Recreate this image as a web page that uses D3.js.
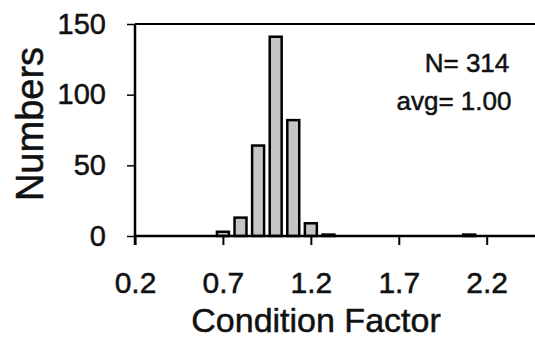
<!DOCTYPE html>
<html>
<head>
<meta charset="utf-8">
<script src="https://cdn.jsdelivr.net/npm/d3@7"></script>
<style>
  body { margin: 0; background: #fff; }
  text { font-family: "Liberation Sans", Arial, Helvetica, sans-serif; fill: #111; stroke: #111; stroke-width: 0.5px; }
</style>
</head>
<body>
<div id="chart"></div>
<script>
// histogram bins (bin centre) and counts
const binCenters = [0.7, 0.8, 0.9, 1.0, 1.1, 1.2, 1.3, 2.1];
const counts = [3, 13, 64, 141, 82, 9, 1, 1];
const xTicks = [0.2, 0.7, 1.2, 1.7, 2.2];
const yTicks = [0, 50, 100, 150];
const annotation = ["N= 314", "avg= 1.00"];

const width = 535, height = 344;
const margin = {top: 24, left: 135, bottom: 108};
const barWidth = 0.068;

const svg = d3.select("#chart").append("svg")
  .attr("width", width)
  .attr("height", height);

const x = d3.scaleLinear([0.2, 2.2], [margin.left, 486.7]);
const y = d3.scaleLinear([0, 150], [height - margin.bottom, margin.top]);

// bars
svg.append("g")
  .selectAll("rect")
  .data(binCenters)
  .join("rect")
  .attr("x", (d) => x(d - barWidth / 2))
  .attr("width", (d) => x(d + barWidth / 2) - x(d - barWidth / 2))
  .attr("y", (d, i) => y(counts[i]))
  .attr("height", (d, i) => y(0) - y(counts[i]))
  .attr("fill", "#c4c4c4")
  .attr("stroke", "#000")
  .attr("stroke-width", 2.5);

// top frame line
svg.append("line")
  .attr("x1", margin.left).attr("x2", width)
  .attr("y1", margin.top).attr("y2", margin.top)
  .attr("stroke", "#000").attr("stroke-width", 2);

const xAxis = d3.axisBottom(x).tickValues(xTicks).tickSize(9).tickPadding(27)
  .tickFormat(d3.format(".1f"));
svg.append("g")
  .attr("transform", `translate(0,${y(0)})`)
  .call(xAxis)
  .call(g => g.select(".domain").attr("d", `M${margin.left},0H${width}`).attr("stroke-width", 2.5))
  .call(g => g.selectAll(".tick line").attr("stroke-width", 2))
  .call(g => g.selectAll(".tick text").attr("font-size", 30).attr("font-family", null));

const yAxis = d3.axisLeft(y).tickValues(yTicks).tickSize(8).tickPadding(21);
svg.append("g")
  .attr("transform", `translate(${margin.left},0)`)
  .call(yAxis)
  .call(g => g.select(".domain").attr("d", `M0,${y(150)}V${y(0) + 9}`).attr("stroke-width", 2.5))
  .call(g => g.selectAll(".tick line").attr("stroke-width", 1.5))
  .call(g => g.selectAll(".tick text").attr("font-size", 29).attr("font-family", null));

// axis titles
svg.append("text")
  .attr("x", 316).attr("y", 332)
  .attr("text-anchor", "middle")
  .attr("font-size", 34)
  .text("Condition Factor");

svg.append("text")
  .attr("transform", "translate(43,124) rotate(-90)")
  .attr("text-anchor", "middle")
  .attr("font-size", 38)
  .text("Numbers");

// annotation
svg.append("text")
  .attr("x", 467).attr("y", 72)
  .attr("text-anchor", "middle")
  .attr("font-size", 26)
  .text(annotation[0]);
svg.append("text")
  .attr("x", 454).attr("y", 110)
  .attr("text-anchor", "middle")
  .attr("font-size", 26)
  .text(annotation[1]);
</script>
</body>
</html>
